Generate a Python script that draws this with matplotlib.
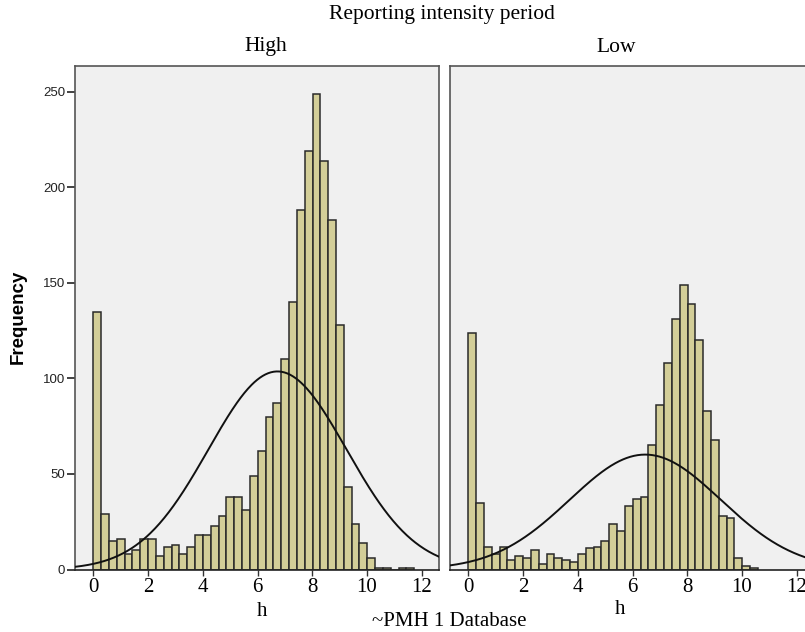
import numpy as np
import matplotlib
matplotlib.use("Agg")
import matplotlib.pyplot as plt

# histogram bins (h), both panels share the same bin width starting at 0
bin_width = 0.286

high_counts = [135, 29, 15, 16, 8, 10, 16, 16, 7, 12,
               13, 8, 12, 18, 18, 23, 28, 38, 38, 31,
               49, 62, 80, 87, 110, 140, 188, 219, 249, 214,
               183, 128, 43, 24, 14, 6, 1, 1, 0, 1, 1]

low_counts = [124, 35, 12, 8, 12, 5, 7, 6, 10, 3,
              8, 6, 5, 4, 8, 11, 12, 15, 24, 20,
              33, 37, 38, 65, 86, 108, 131, 149, 139, 120,
              83, 68, 28, 27, 6, 2, 1]

panel_titles = ["High", "Low"]
x_ticks = [0, 2, 4, 6, 8, 10, 12]
y_ticks = [0, 50, 100, 150, 200, 250]

serif = "Liberation Serif"
sans = "Liberation Sans"

fig = plt.figure(figsize=(8.05, 6.32), dpi=100)

panel_lefts = [75 / 805, 450 / 805]
bottom = (632 - 569.5) / 632
width = 364 / 805
height = 503.5 / 632


def draw_panel(ax, counts, show_y):
    counts = np.array(counts, dtype=float)
    edges = np.arange(len(counts) + 1) * bin_width
    centers = edges[:-1] + bin_width / 2
    ax.bar(edges[:-1], counts, width=bin_width, align="edge",
           color="#d3ce98", edgecolor="#2a2a2a", linewidth=1.1, zorder=2)

    # normal curve from the binned data
    n = counts.sum()
    mu = (counts * centers).sum() / n
    sd = np.sqrt((counts * (centers - mu) ** 2).sum() / (n - 1))
    xs = np.linspace(-0.7, 12.7, 400)
    ys = n * bin_width * np.exp(-0.5 * ((xs - mu) / sd) ** 2) / (sd * np.sqrt(2 * np.pi))
    ax.plot(xs, ys, color="#111111", linewidth=1.4, zorder=3)

    ax.set_facecolor("#f0f0f0")
    ax.set_xlim(-0.67, 12.63)
    ax.set_ylim(0, 263.5)
    ax.set_xticks(x_ticks)
    ax.set_xticklabels([str(t) for t in x_ticks], fontfamily=serif, fontsize=15)
    ax.tick_params(axis="x", direction="out", length=4, width=1, color="#333333", pad=2)
    if show_y:
        ax.set_yticks(y_ticks)
        ax.set_yticklabels([str(t) for t in y_ticks], fontfamily=sans, fontsize=9.5,
                           color="#222222")
        ax.tick_params(axis="y", direction="out", length=6, width=1.2, color="#222222", pad=1)
    else:
        ax.set_yticks([])
    for side in ["left", "top", "right"]:
        ax.spines[side].set_color("#555555")
        ax.spines[side].set_linewidth(1.2)
    ax.spines["bottom"].set_color("#222222")
    ax.spines["bottom"].set_linewidth(1.2)


ax1 = fig.add_axes([panel_lefts[0], bottom, width, height])
draw_panel(ax1, high_counts, True)
ax2 = fig.add_axes([panel_lefts[1], bottom, width, height])
draw_panel(ax2, low_counts, False)

fig.text(441.7 / 805, 1 - 15 / 632, "Reporting intensity period", ha="center", va="center",
         fontfamily=serif, fontsize=15.5)
fig.text(265.7 / 805, 1 - 47 / 632, panel_titles[0], ha="center", va="center",
         fontfamily=serif, fontsize=15.5)
fig.text(616 / 805, 1 - 47 / 632, panel_titles[1], ha="center", va="center",
         fontfamily=serif, fontsize=15.5)
fig.text(18 / 805, 1 - 317 / 632, "Frequency", rotation=90, ha="center", va="center",
         fontfamily=sans, fontweight="bold", fontsize=13.5)
fig.text(262 / 805, 1 - 612 / 632, "h", ha="center", va="center",
         fontfamily=serif, fontsize=15)
fig.text(620 / 805, 1 - 610 / 632, "h", ha="center", va="center",
         fontfamily=serif, fontsize=15)
fig.text(449 / 805, 1 - 622 / 632, "~PMH 1 Database", ha="center", va="center",
         fontfamily=serif, fontsize=15)

fig.savefig("out.png", dpi=100, facecolor="white")
